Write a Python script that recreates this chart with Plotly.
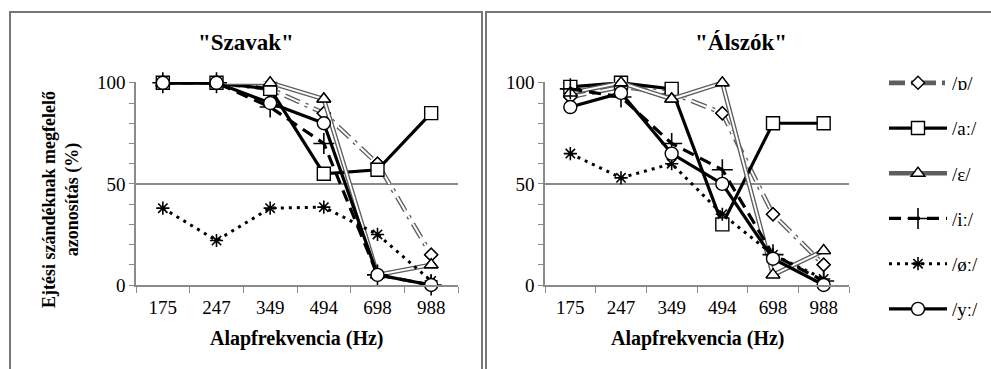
import plotly.graph_objects as go

W, H = 991, 369

categories = ["175", "247", "349", "494", "698", "988"]
series_names = ["/ɒ/", "/aː/", "/ɛ/", "/iː/", "/øː/", "/yː/"]

# "Szavak" panel values (%)
szavak_o = [100, 100, 97, 85, 60, 15]
szavak_a = [100, 100, 97, 55, 57, 85]
szavak_e = [100, 100, 100, 92, 5, 10]
szavak_i = [100, 100, 88, 70, 5, 0]
szavak_oe = [38, 22, 38, 38.5, 25, 2]
szavak_y = [100, 100, 90, 80, 5, 0]

# "Álszók" panel values (%)
alszok_o = [93, 98, 95, 85, 35, 10]
alszok_a = [98, 100, 97, 30, 80, 80]
alszok_e = [95, 100, 92, 100, 5, 17]
alszok_i = [97, 93, 70, 57, 15, 2]
alszok_oe = [65, 53, 60, 35, 15, 3]
alszok_y = [88, 95, 65, 50, 13, 0]

panel_titles = ['"Szavak"', '"Álszók"']
x_title = "Alapfrekvencia (Hz)"
y_title = "Ejtési szándéknak megfelelő<br>azonosítás (%)"

FONT = "Liberation Serif, Times New Roman, Times, serif"
GRAY = "#8a8a8a"

def px(x):
    return x / W

def py(y):
    return 1 - y / H

styles = [
    dict(kind="double", dash="16px,6px,3px,6px", symbol="diamond", msize=10),
    dict(kind="single", dash="solid", width=3.2, symbol="square", msize=13),
    dict(kind="double", dash="solid", symbol="triangle-up", msize=12),
    dict(kind="single", dash="12px,7px", width=3.2, symbol="cross-thin", msize=15),
    dict(kind="single", dash="3px,5px", width=3, symbol="asterisk", msize=11),
    dict(kind="single", dash="solid", width=3.2, symbol="circle", msize=13),
]

panels = [
    ("x", "y", [szavak_o, szavak_a, szavak_e, szavak_i, szavak_oe, szavak_y]),
    ("x2", "y2", [alszok_o, alszok_a, alszok_e, alszok_i, alszok_oe, alszok_y]),
]

fig = go.Figure()

for pi, (xa, ya, data) in enumerate(panels):
    for si, (name, vals, st) in enumerate(zip(series_names, data, styles)):
        show = pi == 0
        sym = st["symbol"]
        open_sym = sym in ("cross-thin", "asterisk")
        marker = dict(symbol=sym, size=st["msize"],
                      color="black" if open_sym else "white",
                      line=dict(color="black", width=1.6 if open_sym else 1.4))
        if st["kind"] == "double":
            fig.add_trace(go.Scatter(
                x=categories, y=vals, xaxis=xa, yaxis=ya, name=name,
                mode="lines+markers", legendgroup=name, showlegend=show,
                line=dict(color="#5e5e5e", width=4.6, dash=st["dash"]),
                marker=marker, cliponaxis=False))
            fig.add_trace(go.Scatter(
                x=categories, y=vals, xaxis=xa, yaxis=ya, name=name,
                mode="lines", legendgroup=name, showlegend=False,
                line=dict(color="white", width=1.9, dash=st["dash"]),
                cliponaxis=False, hoverinfo="skip"))
            fig.add_trace(go.Scatter(
                x=categories, y=vals, xaxis=xa, yaxis=ya, name=name,
                mode="markers", legendgroup=name, showlegend=False,
                marker=marker, cliponaxis=False))
        else:
            fig.add_trace(go.Scatter(
                x=categories, y=vals, xaxis=xa, yaxis=ya, name=name,
                mode="lines+markers", legendgroup=name, showlegend=show,
                line=dict(color="black", width=st["width"], dash=st["dash"]),
                marker=marker, cliponaxis=False))

yaxis_common = dict(
    range=[0, 100.4], tickvals=[0, 50, 100], showgrid=True, gridcolor=GRAY,
    gridwidth=1.6, showline=True, linecolor=GRAY, linewidth=1.6,
    ticks="outside", ticklen=5, tickcolor=GRAY, tickwidth=1.4,
    minor=dict(dtick=10, ticks="outside", ticklen=5, tickcolor=GRAY, tickwidth=1.4, showgrid=False),
    zeroline=False, tickfont=dict(family=FONT, size=19, color="black"),
    domain=[py(285), py(82)], fixedrange=True, automargin=False,
)
xaxis_common = dict(
    type="category", range=[-0.5, 5.5], showline=True, linecolor=GRAY, linewidth=1.6,
    ticks="outside", tickson="boundaries", ticklen=6, tickcolor=GRAY, tickwidth=1.4,
    showgrid=False, zeroline=False, tickfont=dict(family=FONT, size=19, color="black"),
    ticklabelstandoff=4, fixedrange=True, automargin=False,
)

fig.update_layout(
    width=W, height=H, margin=dict(l=0, r=0, t=0, b=0, autoexpand=False),
    paper_bgcolor="white", plot_bgcolor="white",
    font=dict(family=FONT, color="black"),
    xaxis=dict(xaxis_common, domain=[px(136), px(458)], anchor="y"),
    yaxis=dict(yaxis_common, anchor="x"),
    xaxis2=dict(xaxis_common, domain=[px(545), px(849)], anchor="y2"),
    yaxis2=dict(yaxis_common, anchor="x2"),
    legend=dict(x=px(884), y=py(64), xanchor="left", yanchor="top",
                font=dict(family=FONT, size=19, color="black"),
                itemwidth=58, tracegroupgap=17.5, traceorder="grouped",
                bgcolor="rgba(0,0,0,0)"),
    showlegend=True,
)

annotations = [
    dict(text="<b>%s</b>" % panel_titles[0], x=px(246), y=py(43), size=23),
    dict(text="<b>%s</b>" % panel_titles[1], x=px(741), y=py(43), size=23),
    dict(text="<b>%s</b>" % x_title, x=px(297), y=py(338), size=20),
    dict(text="<b>%s</b>" % x_title, x=px(698), y=py(338), size=20),
]
for a in annotations:
    fig.add_annotation(text=a["text"], x=a["x"], y=a["y"], xref="paper", yref="paper",
                       showarrow=False, xanchor="center", yanchor="middle",
                       font=dict(family=FONT, size=a["size"], color="black"))
fig.add_annotation(text="<b>%s</b>" % y_title, x=px(61), y=py(200), xref="paper", yref="paper",
                   showarrow=False, textangle=-90, xanchor="center", yanchor="middle",
                   font=dict(family=FONT, size=18, color="black"))

# panel frames
fig.add_shape(type="rect", xref="paper", yref="paper", x0=px(10), x1=px(482),
              y0=py(380), y1=py(12), line=dict(color="#777777", width=2))
fig.add_shape(type="rect", xref="paper", yref="paper", x0=px(486), x1=px(995),
              y0=py(380), y1=py(12), line=dict(color="#777777", width=2))

fig.write_html("out.html")
